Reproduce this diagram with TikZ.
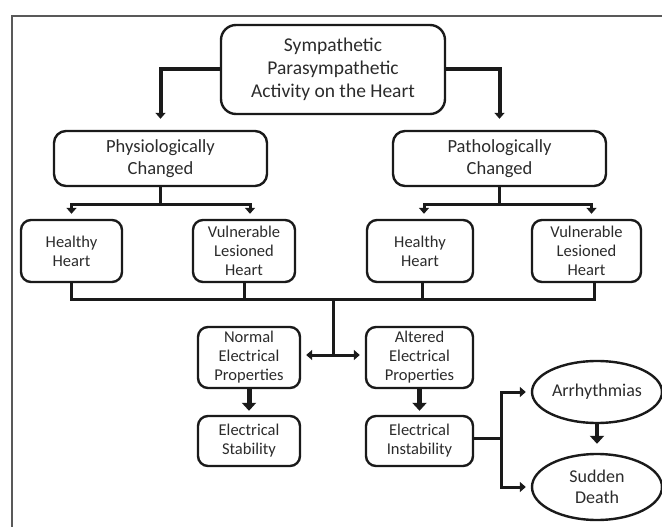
\documentclass[tikz,border=0pt]{standalone}
\usepackage{fontspec}
\setmainfont{Carlito}
\usetikzlibrary{arrows.meta,shapes.geometric}
\definecolor{ink}{HTML}{1A1A1A}
\definecolor{txt}{HTML}{2B2B2B}

\begin{document}
\begin{tikzpicture}[x=1pt,y=-1pt,
  box/.style={draw=ink,line width=2.4pt,rounded corners=10pt,align=center,text=txt,inner sep=1pt,font=\fontsize{16.5}{19}\selectfont},
  oval/.style={draw=ink,line width=2.4pt,ellipse,align=center,text=txt,inner sep=0pt,minimum width=130pt,font=\fontsize{18}{20.5}\selectfont},
  conn/.style={draw=ink,line width=3pt},
  arr/.style={conn,-{Triangle[length=6pt,width=10pt]}},
  fat/.style={draw=ink,line width=5pt,-{Triangle[length=8pt,width=14pt]}}]
\useasboundingbox (0,0) rectangle (662,527);
\draw[black!65,line width=1.5pt] (12,527) -- (12,16) -- (662,16);

\node[box,rounded corners=15pt,minimum width=224pt,minimum height=89pt,font=\fontsize{19.5}{23}\selectfont] (act) at (333,69.5) {Sympathetic\\Parasympathetic\\Activity on the Heart};
\node[box,rounded corners=12pt,minimum width=213pt,minimum height=55pt,font=\fontsize{18.5}{22}\selectfont] (phys) at (160.5,158.5) {Physiologically\\Changed};
\node[box,rounded corners=12pt,minimum width=213pt,minimum height=55pt,font=\fontsize{18.5}{22}\selectfont] (patho) at (499.5,158.5) {Pathologically\\Changed};

\node[box,minimum width=101pt,minimum height=62pt] (hl) at (71.5,251) {Healthy\\Heart};
\node[box,minimum width=102pt,minimum height=62pt] (vl) at (244,251) {Vulnerable\\Lesioned\\Heart};
\node[box,minimum width=106pt,minimum height=62pt] (hr) at (420,251) {Healthy\\Heart};
\node[box,minimum width=109pt,minimum height=62pt] (vr) at (586.5,251) {Vulnerable\\Lesioned\\Heart};

\node[box,minimum width=102pt,minimum height=61pt] (normal) at (249,357.5) {Normal\\Electrical\\Properties};
\node[box,minimum width=107pt,minimum height=61pt] (altered) at (419.5,357.5) {Altered\\Electrical\\Properties};
\node[box,minimum width=102pt,minimum height=50pt] (stab) at (249,441) {Electrical\\Stability};
\node[box,minimum width=107pt,minimum height=50pt] (instab) at (419.5,441) {Electrical\\Instability};

\node[oval,minimum height=62pt] (arrh) at (597,392) {Arrhythmias};
\node[oval,minimum height=66pt] (death) at (597,487) {Sudden\\Death};

\draw[arr,line width=4pt] (act.west) -| ([yshift=11pt]phys.north);
\draw[arr,line width=4pt] (act.east) -| ([yshift=11pt]patho.north);

\draw[conn] (phys.south) -- ++(0,17) coordinate (pj);
\draw[arr] (pj) -| ([yshift=5pt]hl.north);
\draw[arr] (pj) -| ([xshift=6pt,yshift=5pt]vl.north);
\draw[conn] (patho.south) -- ++(0,17) coordinate (qj);
\draw[arr] (qj) -| ([xshift=4pt,yshift=5pt]hr.north);
\draw[arr] (qj) -| ([xshift=5pt,yshift=5pt]vr.north);

\draw[conn] (hl.south) -- ++(0,16) coordinate (bus) -| ([xshift=8pt]vr.south);
\draw[conn] (vl.south) -- (vl.south |- bus);
\draw[conn] ([xshift=2pt]hr.south) -- ([xshift=2pt]hr.south |- bus);

\coordinate (mid) at (333,355);
\draw[conn] (mid |- bus) -- (mid);
\draw[conn,{Triangle[length=6pt,width=10pt]}-{Triangle[length=6pt,width=10pt]}] ([xshift=5pt]normal.east |- mid) -- ([xshift=-5pt]altered.west |- mid);

\draw[fat] (normal.south) -- ([yshift=4pt]stab.north);
\draw[fat] (altered.south) -- ([yshift=4pt]instab.north);

\draw[conn] (instab.east |- 0,438) -- ++(27,0) coordinate (ij);
\draw[arr] (ij) |- ([xshift=-5pt]arrh.west);
\draw[arr] (ij) |- ([xshift=-5pt]death.west);
\draw[fat,line width=4pt] (arrh.south) -- ([yshift=9pt]death.north);
\end{tikzpicture}
\end{document}
